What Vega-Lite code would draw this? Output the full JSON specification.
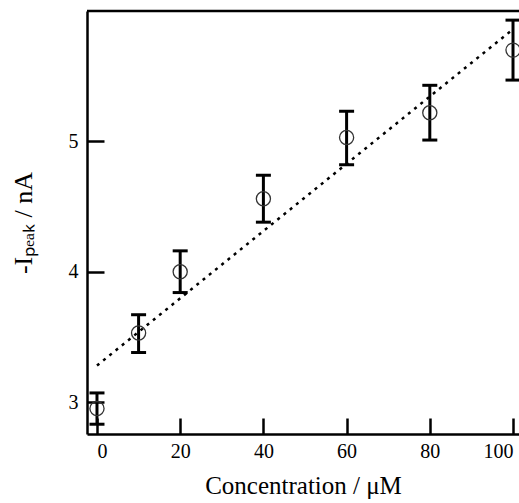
{
  "$schema": "https://vega.github.io/schema/vega-lite/v6.json",
  "width": 432,
  "height": 423,
  "autosize": "none",
  "padding": {"left": 87, "top": 11, "right": 0, "bottom": 69},
  "background": "white",
  "config": {
    "view": {"stroke": null},
    "font": "Liberation Serif",
    "axis": {
      "domainColor": "#000",
      "domainWidth": 2.5,
      "tickColor": "#000",
      "tickWidth": 2.5,
      "grid": false,
      "labelFont": "Liberation Serif",
      "titleFont": "Liberation Serif",
      "labelColor": "#000",
      "titleColor": "#000",
      "titleFontWeight": "normal"
    }
  },
  "datasets": {
    "pts": [
      {"c": 0, "i": 2.95, "lo": 2.83, "hi": 3.07},
      {"c": 10, "i": 3.53, "lo": 3.38, "hi": 3.67},
      {"c": 20, "i": 4.0, "lo": 3.84, "hi": 4.16},
      {"c": 40, "i": 4.56, "lo": 4.38, "hi": 4.74},
      {"c": 60, "i": 5.03, "lo": 4.82, "hi": 5.23},
      {"c": 80, "i": 5.22, "lo": 5.01, "hi": 5.43},
      {"c": 100, "i": 5.70, "lo": 5.47, "hi": 5.93}
    ],
    "fit": [
      {"c": 0, "i": 3.28},
      {"c": 100, "i": 5.86}
    ],
    "top": [{"i": 6.0}]
  },
  "layer": [
    {
      "data": {"name": "top"},
      "mark": {"type": "rule", "color": "#000", "strokeWidth": 2.5, "clip": false},
      "encoding": {"y": {"field": "i", "type": "quantitative"}}
    },
    {
      "data": {"name": "fit"},
      "mark": {"type": "line", "color": "#000", "strokeWidth": 2.5, "strokeDash": [3, 5]},
      "encoding": {
        "x": {"field": "c", "type": "quantitative"},
        "y": {"field": "i", "type": "quantitative"}
      }
    },
    {
      "data": {"name": "pts"},
      "mark": {"type": "rule", "color": "#000", "strokeWidth": 3},
      "encoding": {
        "x": {"field": "c", "type": "quantitative"},
        "y": {"field": "lo", "type": "quantitative"},
        "y2": {"field": "hi"}
      }
    },
    {
      "data": {"name": "pts"},
      "mark": {"type": "tick", "orient": "horizontal", "color": "#000", "thickness": 3, "size": 15, "opacity": 1},
      "encoding": {
        "x": {"field": "c", "type": "quantitative"},
        "y": {"field": "lo", "type": "quantitative"}
      }
    },
    {
      "data": {"name": "pts"},
      "mark": {"type": "tick", "orient": "horizontal", "color": "#000", "thickness": 3, "size": 15, "opacity": 1},
      "encoding": {
        "x": {"field": "c", "type": "quantitative"},
        "y": {"field": "hi", "type": "quantitative"}
      }
    },
    {
      "data": {"name": "pts"},
      "mark": {"type": "point", "shape": "circle", "filled": false, "size": 200, "stroke": "#333", "strokeWidth": 1.3, "opacity": 1},
      "encoding": {
        "x": {
          "field": "c", "type": "quantitative",
          "scale": {"domain": [-2.4, 101.44], "nice": false, "zero": false},
          "axis": {
            "title": "Concentration / μM",
            "values": [0, 20, 40, 60, 80, 100],
            "format": "d",
            "tickSize": -16,
            "labelPadding": 23,
            "labelFontSize": 20,
            "labelAlign": {
              "condition": [
                {"test": "datum.value == 0", "value": "left"},
                {"test": "datum.value == 100", "value": "right"}
              ],
              "value": "center"
            },
            "titleFontSize": 25,
            "titlePadding": 12,
            "labelFlush": false
          }
        },
        "y": {
          "field": "i", "type": "quantitative",
          "scale": {"domain": [2.755, 6.0], "nice": false, "zero": false},
          "axis": {
            "title": "-Iₚₑₐₖ / nA",
            "values": [3, 4, 5],
            "format": "d",
            "tickSize": -17,
            "labelPadding": 26,
            "labelFontSize": 20,
            "titleFontSize": 26,
            "titlePadding": 32
          }
        }
      }
    }
  ]
}
